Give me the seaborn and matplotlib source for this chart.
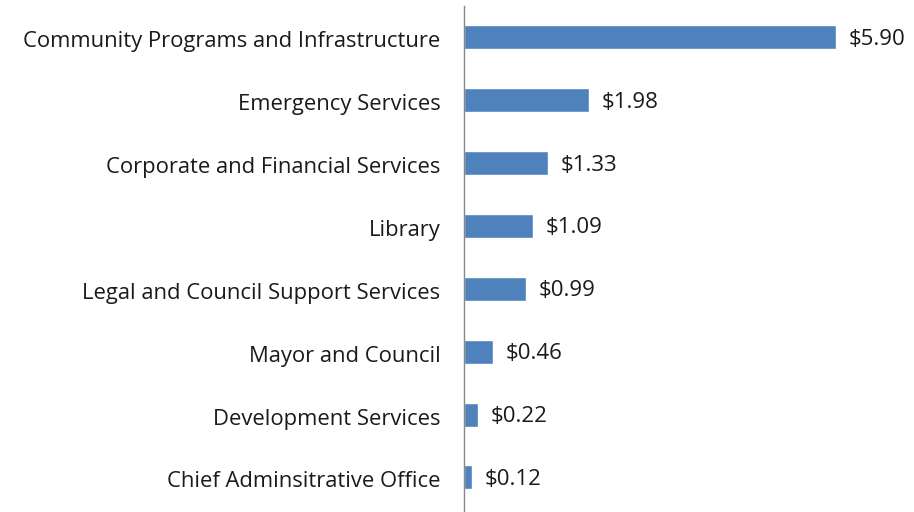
import matplotlib
matplotlib.use("Agg")
import matplotlib.pyplot as plt
import matplotlib.transforms as mtransforms
import seaborn as sns
import pandas as pd

departments = [
    "Community Programs and Infrastructure",
    "Emergency Services",
    "Corporate and Financial Services",
    "Library",
    "Legal and Council Support Services",
    "Mayor and Council",
    "Development Services",
    "Chief Adminsitrative Office",
]
amounts = [5.90, 1.98, 1.33, 1.09, 0.99, 0.46, 0.22, 0.12]

df = pd.DataFrame({"department": departments, "amount": amounts})

sns.set_style("white")
plt.rcParams['font.family'] = ['Open Sans', 'DejaVu Sans']

fig = plt.figure(figsize=(9.14, 5.12), dpi=100)
ax = fig.add_axes([464 / 914, 0.0, (905 - 464) / 914, 506 / 512])

sns.barplot(data=df, y="department", x="amount", orient="h",
            color="#4F81BD", width=0.38, saturation=1, ax=ax)

for i, v in enumerate(amounts):
    ax.text(v + 0.2, i + 0.03, f"${v:.2f}", va="center", ha="left",
            fontsize=16, color="#1a1a1a")

ax.set_xlim(0, 7)
ax.set_ylim(7.55, -0.5)
ax.set_xlabel("")
ax.set_ylabel("")
ax.set_xticks([])
ax.tick_params(axis="y", length=0, pad=17, labelsize=15.8, labelcolor="#1a1a1a")
# nudge category labels down a touch
shift = mtransforms.ScaledTranslation(0, -2 / 100, fig.dpi_scale_trans)
for t in ax.get_yticklabels():
    t.set_transform(t.get_transform() + shift)
for side in ["top", "right", "bottom"]:
    ax.spines[side].set_visible(False)
ax.spines["left"].set_color("#888888")
ax.spines["left"].set_linewidth(1)
ax.patch.set_alpha(0)

fig.savefig("out.png", dpi=100)
